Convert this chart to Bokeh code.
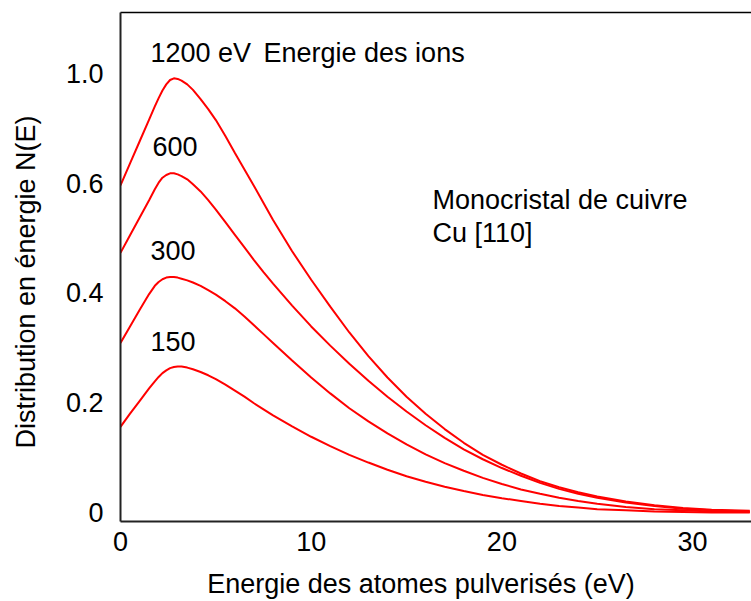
from bokeh.plotting import figure
from bokeh.models import Range1d, FixedTicker, LinearAxis, Label
from bokeh.embed import file_html
from bokeh.resources import INLINE

# ---- data ----
energy = [0, 0.5, 1.0, 1.5, 1.8, 2.0, 2.2, 2.4, 2.6, 2.8, 3.0, 3.2, 3.5, 3.8,
          4.2, 4.6, 5.0, 5.5, 6.0, 6.5, 7.0, 7.5, 8.0, 9, 10, 11, 12, 13, 14,
          15, 16, 17, 18, 19, 20, 21, 22, 23, 24, 25, 26.5, 28, 29.5, 31, 33]
n_1200 = [0.596, 0.636, 0.676, 0.716, 0.740, 0.755, 0.769, 0.780, 0.788, 0.791,
          0.790, 0.787, 0.780, 0.770, 0.753, 0.735, 0.715, 0.686, 0.655, 0.625,
          0.595, 0.564, 0.533, 0.476, 0.424, 0.375, 0.328, 0.285, 0.246, 0.211,
          0.180, 0.152, 0.127, 0.105, 0.087, 0.071, 0.057, 0.046, 0.037, 0.029,
          0.020, 0.013, 0.008, 0.005, 0.003]
n_600 = [0.473, 0.505, 0.537, 0.569, 0.589, 0.601, 0.610, 0.615, 0.618, 0.618,
         0.616, 0.613, 0.607, 0.598, 0.585, 0.569, 0.552, 0.529, 0.506, 0.483,
         0.460, 0.438, 0.417, 0.377, 0.339, 0.304, 0.271, 0.240, 0.211, 0.184,
         0.159, 0.136, 0.115, 0.097, 0.081, 0.067, 0.054, 0.043, 0.034, 0.027,
         0.018, 0.012, 0.007, 0.004, 0.002]
n_300 = [0.309, 0.339, 0.369, 0.398, 0.413, 0.420, 0.425, 0.428, 0.429, 0.429,
         0.428, 0.426, 0.423, 0.419, 0.413, 0.405, 0.397, 0.385, 0.372, 0.357,
         0.341, 0.325, 0.309, 0.277, 0.246, 0.217, 0.190, 0.166, 0.144, 0.124,
         0.106, 0.090, 0.076, 0.063, 0.052, 0.042, 0.034, 0.027, 0.021, 0.016,
         0.010, 0.006, 0.004, 0.002, 0.001]
n_150 = [0.156, 0.180, 0.203, 0.226, 0.239, 0.247, 0.254, 0.259, 0.263, 0.265,
         0.266, 0.266, 0.264, 0.261, 0.256, 0.250, 0.243, 0.233, 0.222, 0.211,
         0.199, 0.188, 0.177, 0.157, 0.138, 0.121, 0.105, 0.091, 0.078, 0.066,
         0.056, 0.047, 0.039, 0.032, 0.026, 0.021, 0.016, 0.012, 0.009, 0.006,
         0.004, 0.002, 0.001, 0.0, 0.0]
series_labels = ["1200 eV", "600", "300", "150"]
x_ticks = [0, 10, 20, 30]
y_ticks = [0, 0.2, 0.4, 0.6, 0.8]
y_tick_labels = ["0", "0.2", "0.4", "0.6", "1.0"]
x_title = "Energie des atomes pulverisés (eV)"
y_title = "Distribution en énergie N(E)"
note_ions = "Energie des ions"
note_crystal = ["Monocristal de cuivre", "Cu [110]"]

FONT = "Liberation Sans"
FS = "27px"
RED = "#ff0000"
PAD = "\u00a0" * 4

p = figure(width=751, height=601, output_backend="svg", toolbar_location=None,
           x_range=Range1d(0, 33.09), y_range=Range1d(-0.0164, 0.911),
           min_border_left=120, min_border_right=0, min_border_top=12,
           min_border_bottom=79, outline_line_color=None,
           background_fill_color="white", border_fill_color="white")
p.grid.visible = False

for ys in [n_1200, n_600, n_300, n_150]:
    p.line(energy, ys, line_color=RED, line_width=2)

# axes styling
for ax in [p.xaxis[0], p.yaxis[0]]:
    ax.major_tick_line_color = None
    ax.minor_tick_line_color = None
    ax.major_tick_in = 0
    ax.major_tick_out = 0
    ax.axis_line_color = "#222222"
    ax.axis_line_width = 2
    ax.major_label_text_font = FONT
    ax.major_label_text_font_size = FS
    ax.major_label_text_color = "black"
    ax.axis_label_text_font = FONT
    ax.axis_label_text_font_size = FS
    ax.axis_label_text_font_style = "normal"
    ax.axis_label_text_color = "black"

p.xaxis[0].ticker = FixedTicker(ticks=x_ticks)
p.xaxis[0].major_label_standoff = 10
p.xaxis[0].axis_label = x_title + PAD
p.xaxis[0].axis_label_standoff = 15

p.yaxis[0].ticker = FixedTicker(ticks=y_ticks)
p.yaxis[0].major_label_overrides = {t: l for t, l in zip(y_ticks, y_tick_labels)}
p.yaxis[0].major_label_standoff = 17
p.yaxis[0].axis_label = y_title + PAD
p.yaxis[0].axis_label_standoff = 22

top = LinearAxis(ticker=FixedTicker(ticks=[]), axis_line_color="black",
                 axis_line_width=1.5, major_tick_line_color=None,
                 minor_tick_line_color=None, major_label_text_font_size="0px")
p.add_layout(top, "above")

def lab(x, y, t):
    p.add_layout(Label(x=x, y=y, text=t, text_font=FONT, text_font_size=FS,
                       text_color="black", text_baseline="middle",
                       text_align="left"))

lab(1.57, 0.838, series_labels[0])
lab(7.5, 0.838, note_ions)
lab(1.68, 0.667, series_labels[1])
lab(1.57, 0.478, series_labels[2])
lab(1.57, 0.311, series_labels[3])
lab(16.36, 0.569, note_crystal[0])
lab(16.36, 0.509, note_crystal[1])

open("out.html", "w").write(file_html(p, INLINE))
